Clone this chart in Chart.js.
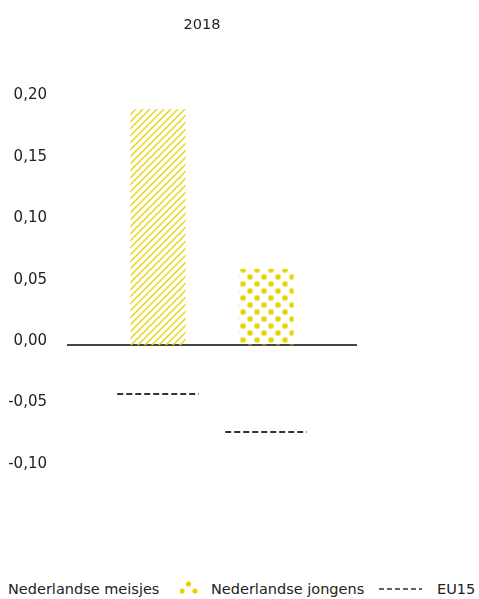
<!DOCTYPE html>
<html><head><meta charset="utf-8">
<script src="https://cdn.jsdelivr.net/npm/chart.js@4.4.1/dist/chart.umd.min.js"></script>
<style>
html,body{margin:0;padding:0;background:#fff;}
#wrap{position:relative;width:479px;height:599px;overflow:hidden;}
#c{position:absolute;left:0;top:0;}
.lg{position:absolute;font:14.5px "DejaVu Sans",sans-serif;color:#222;white-space:nowrap;line-height:16px;}
</style></head><body>
<div id="wrap">
<canvas id="c" width="479" height="545"></canvas>
<div id="legend"></div>
</div>
<script>
// ---- data ----
const categories = ['2018'];
const seriesNames = ['Nederlandse meisjes', 'Nederlandse jongens'];
const meisjesValues = [0.192];
const jongensValues = [0.062];
const eu15Name = 'EU15';
const eu15Values = [-0.04, -0.071]; // EU15 reference per series
const yTickMin = -0.10;
const yTickMax = 0.20;
const yTickStep = 0.05;

// ---- styles ----
const yellow = '#e3d400';
const txt = '#222';
const font = {family: '"DejaVu Sans", sans-serif', size: 15};

function hatchPattern(ctx) {
  const c = document.createElement('canvas');
  c.width = 7; c.height = 7;
  const g = c.getContext('2d');
  g.strokeStyle = yellow; g.lineWidth = 1.3;
  g.beginPath();
  g.moveTo(-1, 8); g.lineTo(8, -1);
  g.moveTo(-8, 8); g.lineTo(1, -1);
  g.moveTo(6, 8); g.lineTo(15, -1);
  g.stroke();
  return ctx.createPattern(c, 'repeat');
}
function dotPattern(ctx) {
  const c = document.createElement('canvas');
  c.width = 14; c.height = 14;
  const g = c.getContext('2d');
  g.fillStyle = yellow;
  [[3.5, 3.5], [10.5, 10.5]].forEach(([x, y]) => { g.beginPath(); g.arc(x, y, 2.7, 0, Math.PI * 2); g.fill(); });
  const p = ctx.createPattern(c, 'repeat');
  p.setTransform(new DOMMatrix().translate(1.5, 0.5));
  return p;
}

const cv = document.getElementById('c');
const cx = cv.getContext('2d');

const eu15Plugin = {
  id: 'eu15',
  afterDatasetsDraw(chart) {
    const ctx = chart.ctx, y = chart.scales.y;
    ctx.save();
    ctx.strokeStyle = '#333'; ctx.lineWidth = 2; ctx.setLineDash([6, 3]);
    eu15Values.forEach((v, i) => {
      const bar = chart.getDatasetMeta(i).data[0];
      const half = bar.width * 0.74;
      const py = Math.round(y.getPixelForValue(v));
      ctx.beginPath(); ctx.moveTo(bar.x - half, py); ctx.lineTo(bar.x + half, py); ctx.stroke();
    });
    ctx.restore();
  }
};

new Chart(cx, {
  type: 'bar',
  data: {
    labels: categories,
    datasets: [
      {label: seriesNames[0], data: meisjesValues, backgroundColor: hatchPattern(cx), borderWidth: 0,
       categoryPercentage: 0.745, barPercentage: 0.51},
      {label: seriesNames[1], data: jongensValues, backgroundColor: dotPattern(cx), borderWidth: 0,
       categoryPercentage: 0.745, barPercentage: 0.51}
    ]
  },
  options: {
    responsive: false,
    animation: false,
    devicePixelRatio: 1,
    layout: {padding: {top: -40, right: 122, bottom: 77, left: 0}},
    plugins: {legend: {display: false}, tooltip: {enabled: false}, title: {display: false}},
    scales: {
      x: {
        position: 'top',
        grid: {display: false},
        border: {display: false},
        ticks: {font: {family: font.family, size: 14.5}, color: txt, padding: 57, labelOffset: -10}
      },
      y: {
        min: yTickMin, max: yTickMax,
        afterFit: s => { s.width = 67; },
        grid: {
          drawTicks: false,
          lineWidth: 2,
          color: c => Math.abs(c.tick.value) < 1e-9 ? '#444' : 'rgba(0,0,0,0)'
        },
        border: {display: false},
        ticks: {
          stepSize: yTickStep, font: font, color: txt, padding: 20, labelOffset: -4,
          callback: v => (Math.abs(v) < 1e-9 ? 0 : v).toFixed(2).replace('.', ',')
        }
      }
    }
  },
  plugins: [eu15Plugin]
});

// ---- legend (HTML) ----
const lg = document.getElementById('legend');
lg.innerHTML =
  '<div class="lg" style="left:8px;top:581px">' + seriesNames[0] + '</div>' +
  '<svg class="lg" style="left:180px;top:580px" width="18" height="16">' +
    '<circle cx="8.5" cy="4" r="2.6" fill="' + yellow + '"/>' +
    '<circle cx="2" cy="11" r="2.6" fill="' + yellow + '"/>' +
    '<circle cx="15" cy="11" r="2.6" fill="' + yellow + '"/>' +
  '</svg>' +
  '<div class="lg" style="left:211px;top:581px">' + seriesNames[1] + '</div>' +
  '<svg class="lg" style="left:378px;top:581px" width="46" height="16">' +
    '<line x1="1" y1="8" x2="44" y2="8" stroke="#333" stroke-width="1.6" stroke-dasharray="5,3"/>' +
  '</svg>' +
  '<div class="lg" style="left:437px;top:581px">' + eu15Name + '</div>';
</script>
</body></html>
